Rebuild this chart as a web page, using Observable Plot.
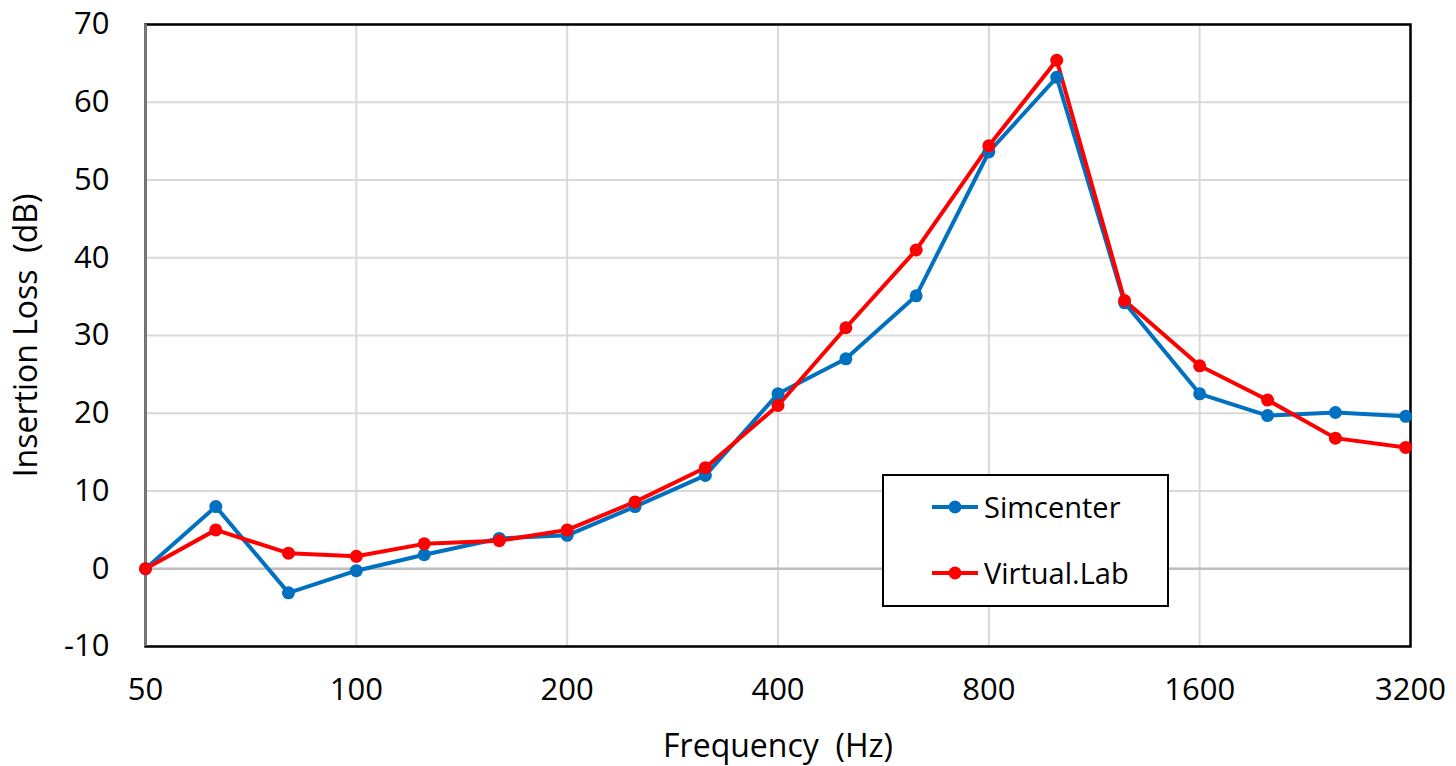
<!DOCTYPE html>
<html>
<head>
<meta charset="utf-8">
<script src="https://cdn.jsdelivr.net/npm/d3@7"></script>
<script src="https://cdn.jsdelivr.net/npm/@observablehq/plot@0.6"></script>
<style>
  html, body { margin: 0; padding: 0; background: #fff; }
  #wrap { position: relative; width: 1456px; height: 766px; font-family: "Open Sans", sans-serif; }
  #legend { position: absolute; left: 882px; top: 474px; width: 283px; height: 129px;
            border: 2px solid #000; background: #fff; box-sizing: content-box; }
  .row { position: absolute; left: 46px; display: flex; align-items: center; font-size: 29px; color: #000; }
  .row svg { margin-right: 4px; }
</style>
</head>
<body>
<div id="wrap"></div>
<script>
const freqs = [50, 63, 80, 100, 125, 160, 200, 250, 315, 400, 500, 630, 800, 1000, 1250, 1600, 2000, 2500, 3150];
const simcenter = [0.0, 8.0, -3.1, -0.25, 1.8, 3.9, 4.3, 8.0, 12.0, 22.5, 27.0, 35.1, 53.6, 63.2, 34.2, 22.5, 19.7, 20.1, 19.6];
const virtualLab = [0.0, 5.0, 2.0, 1.6, 3.2, 3.6, 5.0, 8.6, 13.0, 21.0, 31.0, 41.0, 54.4, 65.4, 34.5, 26.1, 21.7, 16.8, 15.6];
const seriesNames = ["Simcenter", "Virtual.Lab"];
const seriesColors = ["#0070C0", "#FF0000"];
const xTicks = [50, 100, 200, 400, 800, 1600, 3200];
const yTicks = [-10, 0, 10, 20, 30, 40, 50, 60, 70];

const rows = [];
[simcenter, virtualLab].forEach((vals, s) => {
  vals.forEach((v, i) => rows.push({ series: seriesNames[s], f: freqs[i], v }));
});

const font = "'Open Sans', sans-serif";

const chart = Plot.plot({
  width: 1456,
  height: 766,
  marginLeft: 145,
  marginRight: 46,
  marginTop: 24,
  marginBottom: 120,
  style: { fontFamily: font, background: "#fff", color: "#000" },
  x: { type: "log", base: 2, domain: [50, 3200], ticks: xTicks },
  y: { domain: [-10, 70], ticks: yTicks },
  color: { domain: seriesNames, range: seriesColors },
  marks: [
    Plot.gridX(xTicks, { stroke: "#d9d9d9", strokeOpacity: 1, strokeWidth: 2 }),
    Plot.gridY(yTicks, { stroke: "#d9d9d9", strokeOpacity: 1, strokeWidth: 2 }),
    Plot.ruleY([0], { stroke: "#bfbfbf", strokeWidth: 2.5 }),
    Plot.frame({ stroke: "#000", strokeWidth: 2.5 }),
    Plot.ruleX([50], { stroke: "#808080", strokeWidth: 2.5 }),
    Plot.axisX(xTicks, {
      tickSize: 0, tickPadding: 31, fontSize: 31,
      tickFormat: d => String(d),
      label: "Frequency\u00a0 (Hz)", labelAnchor: "center", labelArrow: "none", labelOffset: 110
    }),
    Plot.axisY(yTicks, {
      tickSize: 0, tickPadding: 36, fontSize: 31,
      tickFormat: d => String(d),
      label: "Insertion Loss\u00a0 (dB)", labelAnchor: "center", labelArrow: "none", labelOffset: 131
    }),
    Plot.line(rows, { x: "f", y: "v", z: "series", stroke: "series", strokeWidth: 4, curve: "linear" }),
    Plot.dot(rows, { x: "f", y: "v", fill: "series", r: 6.5, stroke: null })
  ]
});

chart.querySelectorAll("g[aria-label='x-axis label'] text, g[aria-label='y-axis label'] text").forEach(t => {
  t.setAttribute("font-size", "32");
  t.style.fontSize = "32px";
});

const wrap = document.getElementById("wrap");
wrap.appendChild(chart);

const legend = document.createElement("div");
legend.id = "legend";
seriesNames.forEach((name, i) => {
  const row = document.createElement("div");
  row.className = "row";
  row.style.top = (i === 0 ? 11 : 77) + "px";
  row.innerHTML = `<svg width="50" height="20"><line x1="2" y1="10" x2="48" y2="10" stroke="${seriesColors[i]}" stroke-width="4"/><circle cx="25" cy="10" r="6.5" fill="${seriesColors[i]}"/></svg><span>${name}</span>`;
  legend.appendChild(row);
});
wrap.appendChild(legend);
</script>
</body>
</html>
